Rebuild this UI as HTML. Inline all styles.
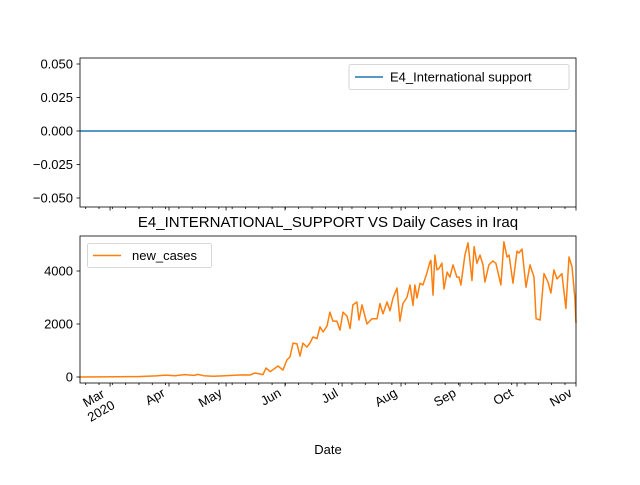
<!DOCTYPE html>
<html><head><meta charset="utf-8"><style>
body{margin:0;background:#fff}
svg{font-family:"Liberation Sans","DejaVu Sans",sans-serif;font-size:13px}
</style></head><body>
<svg id="c" width="640" height="480" xmlns="http://www.w3.org/2000/svg">
<rect width="640" height="480" fill="#fff"/>
<g id="topPanel"></g>
<g id="botPanel"></g>
<text x="328" y="227" text-anchor="middle" font-size="15">E4_INTERNATIONAL_SUPPORT VS Daily Cases in Iraq</text>
<text x="328" y="454" text-anchor="middle">Date</text>
</svg>
<script>
// days since Feb 14 2020
const days=[0,10,20,30,40,45,50,55,60,62,65,70,75,80,85,89.4,92,96.2,97.8,100,104.1,106.7,108.8,110.4,112,114.1,115.7,117.2,119.3,120.9,122.5,124.6,126.2,127.8,129.9,131.4,133,135.1,136.7,138.3,140.4,142,143.5,145.6,146.7,148.3,150.9,153.5,156.2,157.7,159.3,161.4,163,164.6,166.7,168.2,169.8,171.9,173.5,175.1,176.1,177.2,178.8,180.3,182.4,184,184.5,185.6,186.6,187.7,188.8,190.3,191.4,193,194.5,196.1,198.2,199.3,200.3,202.4,204,206.1,207.2,208.7,210.3,211.9,212.9,215,217.1,218.7,221.3,222.9,224.5,225.6,227.7,229.8,230.8,232.4,234.5,236.6,238.7,239.8,241.9,244,246.1,247.6,249.2,250.8,253.4,255.5,257.1,258.7,260.2,260.8];
const cases=[0,5,10,15,40,70,50,90,60,100,50,30,40,60,80,75,150,90,340,200,415,260,640,760,1280,1250,790,1280,1130,1280,1510,1450,1890,1700,1920,2450,2110,2110,1770,2450,2300,1830,2720,2830,2150,2720,2000,2200,2200,2770,2380,2830,2500,2980,3360,2110,2770,3000,3470,2700,3470,2980,3540,3470,3920,4340,4400,3090,4600,4040,4100,4300,3320,3960,3770,4230,3770,3770,3470,4600,5060,3640,4920,4290,4600,4230,3580,4230,4380,4290,3470,5100,4530,4600,3540,4750,4680,4830,3390,4230,3770,2200,2150,3900,3580,3170,4040,3700,3900,2590,4530,4160,2980,2040,2680];
const e4Days=[0,260.8];
const e4Vals=[0,0];
const monthLabels=["Mar","Apr","May","Jun","Jul","Aug","Sep","Oct","Nov"];
const monthDays=[15.8,46.8,76.8,107.8,137.8,168.8,199.8,229.8,260.8];
const botTicks=[0,2000,4000];
const topTicks=[0.05,0.025,0,-0.025,-0.05];
const topTickLabels=["0.050","0.025","0.000","\u22120.025","\u22120.050"];

const NS="http://www.w3.org/2000/svg";
const X0=80,X1=576;
const xs=d=>X0+(d-0)/(260.8)*(X1-X0);
const yb=v=>377-v*0.0265;
const yt=v=>131-v*1340;
function mk(p,t,a){const e=document.createElementNS(NS,t);for(const k in a)e.setAttribute(k,a[k]);p.appendChild(e);return e;}
const topG=document.getElementById('topPanel'),botG=document.getElementById('botPanel');

function axes(g,y0,y1,labels){
  for(let d=3;d<=260.8;d+=7){
    const m=mk(g,'line',{x1:xs(d),x2:xs(d),y1:y1,y2:y1+2,stroke:'#000','stroke-width':0.8});
    
    
  }
  monthDays.forEach((d,i)=>{
    const t=mk(g,'line',{x1:xs(d),x2:xs(d),y1:y1,y2:y1+3.5,stroke:'#000','stroke-width':0.8});
    
    
    if(labels){
      const ax=xs(d)-9, ay=y1+2;
      if(i===0){
        const cx=ax-13;
        const tx=mk(g,'text',{x:cx,y:ay+12,'text-anchor':'middle',transform:`rotate(-30 ${ax} ${ay})`});
        tx.textContent=monthLabels[i];
        
        
        const t2=mk(g,'text',{x:cx,y:ay+27,'text-anchor':'middle',transform:`rotate(-30 ${ax} ${ay})`});
        t2.textContent="2020";
        
        
      } else {
        const tx=mk(g,'text',{x:ax,y:ay+12,'text-anchor':'end',transform:`rotate(-30 ${ax} ${ay})`});
        tx.textContent=monthLabels[i];
        
        
      }
    }
  });
}

axes(topG,58,207,false);
topTicks.forEach((v,i)=>{
  const t=mk(topG,'line',{x1:76.5,x2:80,y1:yt(v),y2:yt(v),stroke:'#000','stroke-width':0.8});
  
  
  const l=mk(topG,'text',{x:73,y:yt(v)+4.5,'text-anchor':'end'});
  l.textContent=topTickLabels[i];
  
  
});
const tl=mk(topG,'polyline',{points:e4Days.map((d,i)=>xs(d)+','+yt(e4Vals[i])).join(' '),fill:'none',stroke:'#1f77b4','stroke-width':1.5});


mk(topG,'rect',{x:80,y:58,width:496,height:149,fill:'none',stroke:'#000','stroke-width':0.8});
const lg1=mk(topG,'g',{});


mk(lg1,'rect',{x:349,y:64.5,width:220,height:25,rx:2,fill:'#fff',stroke:'#ccc','stroke-width':0.8});
mk(lg1,'line',{x1:355,x2:383,y1:77,y2:77,stroke:'#1f77b4','stroke-width':1.5});
const lt1=mk(lg1,'text',{x:390,y:81.5});lt1.textContent="E4_International support";

axes(botG,236,383,true);
botTicks.forEach(v=>{
  const t=mk(botG,'line',{x1:76.5,x2:80,y1:yb(v),y2:yb(v),stroke:'#000','stroke-width':0.8});
  
  
  const l=mk(botG,'text',{x:73,y:yb(v)+4.5,'text-anchor':'end'});
  l.textContent=String(v);
  
  
});
const bl=mk(botG,'polyline',{points:days.map((d,i)=>xs(d).toFixed(1)+','+yb(cases[i]).toFixed(1)).join(' '),fill:'none',stroke:'#ff7f0e','stroke-width':1.5,'stroke-linejoin':'round'});


mk(botG,'rect',{x:80,y:236,width:496,height:147,fill:'none',stroke:'#000','stroke-width':0.8});
const lg2=mk(botG,'g',{});


mk(lg2,'rect',{x:87.5,y:243.5,width:124,height:24,rx:2,fill:'#fff',stroke:'#ccc','stroke-width':0.8});
mk(lg2,'line',{x1:93,x2:121,y1:255.5,y2:255.5,stroke:'#ff7f0e','stroke-width':1.5});
const lt2=mk(lg2,'text',{x:132,y:260});lt2.textContent="new_cases";
</script>
</body></html>
